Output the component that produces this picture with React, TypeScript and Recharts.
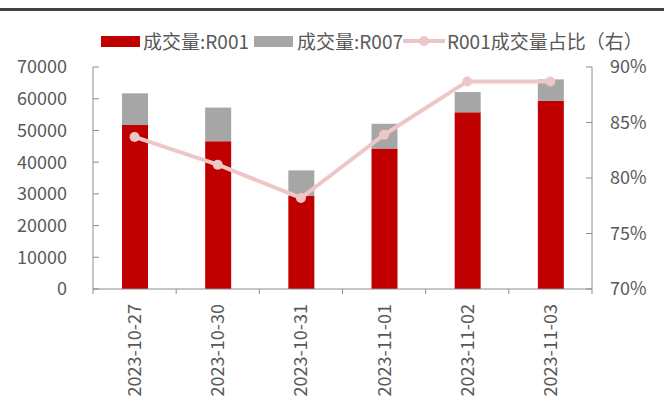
import { Bar, ComposedChart, Line, XAxis, YAxis } from 'recharts'

const dates = ['2023-10-27', '2023-10-30', '2023-10-31', '2023-11-01', '2023-11-02', '2023-11-03']
const r001 = [51700, 46600, 29400, 44300, 55700, 59300]
const r007 = [10000, 10600, 8000, 7800, 6400, 6800]
const r001Share = [83.7, 81.2, 78.2, 83.9, 88.7, 88.7]
const leftTicks = [0, 10000, 20000, 30000, 40000, 50000, 60000, 70000]
const rightTicks = [70, 75, 80, 85, 90]

const data = dates.map((date, i) => ({
  date,
  r001: r001[i],
  r007: r007[i],
  share: r001Share[i],
}))

const W = 664
const H = 407
const PLOT_TOP = 67
const PLOT_BOTTOM = 289
const PLOT_LEFT = 93
const PLOT_RIGHT = 592
const FONT = '"Noto Sans CJK SC", "Noto Sans", sans-serif'
const FS = 18
const TEXT = '#595959'
const AXIS = '#8c8c8c'
const RED = '#c00000'
const GRAY = '#a6a6a6'
const PINK = '#edc7c7'
const HALF_BAND = (PLOT_RIGHT - PLOT_LEFT) / dates.length / 2

function LeftTick({ x, y, payload }: any) {
  const axisX = x + 26
  return (
    <g>
      <line x1={axisX} x2={axisX + 6} y1={y} y2={y} stroke={AXIS} />
      <text x={x} y={y} dy="0.36em" textAnchor="end" fill={TEXT} fontSize={FS} fontFamily={FONT}>
        {payload.value}
      </text>
    </g>
  )
}

function RightTick({ x, y, payload }: any) {
  const axisX = x - 18
  return (
    <g>
      <line x1={axisX - 6} x2={axisX} y1={y} y2={y} stroke={AXIS} />
      <text x={x} y={y} dy="0.36em" textAnchor="start" fill={TEXT} fontSize={FS} fontFamily={FONT}>
        {payload.value}%
      </text>
    </g>
  )
}

function DateTick({ x, y, payload, index }: any) {
  return (
    <g>
      <line x1={x - HALF_BAND} x2={x - HALF_BAND} y1={y} y2={y + 5} stroke={AXIS} />
      {index === dates.length - 1 && (
        <line x1={x + HALF_BAND} x2={x + HALF_BAND} y1={y} y2={y + 5} stroke={AXIS} />
      )}
      <text
        transform={`translate(${x},${y + 15}) rotate(-90)`}
        dy="0.36em"
        textAnchor="end"
        fill={TEXT}
        fontSize={FS}
        fontFamily={FONT}
      >
        {payload.value}
      </text>
    </g>
  )
}

function LegendRow() {
  const item = (left: number) => ({
    position: 'absolute' as const,
    left,
    top: 0,
    display: 'flex',
    alignItems: 'center',
    whiteSpace: 'nowrap' as const,
  })
  return (
    <div
      style={{
        position: 'absolute',
        top: 30,
        left: 0,
        height: 22,
        fontFamily: FONT,
        fontSize: 19,
        color: TEXT,
        lineHeight: '22px',
      }}
    >
      <div style={item(101)}>
        <span style={{ width: 39, height: 11, background: RED, marginRight: 3 }} />
        成交量:R001
      </div>
      <div style={item(254)}>
        <span style={{ width: 39, height: 11, background: GRAY, marginRight: 4 }} />
        成交量:R007
      </div>
      <div style={item(403)}>
        <svg width={42} height={12} style={{ marginRight: 2 }}>
          <line x1={0} x2={42} y1={6} y2={6} stroke={PINK} strokeWidth={4} />
          <circle cx={21} cy={6} r={5} fill={PINK} />
        </svg>
        R001成交量占比（右）
      </div>
    </div>
  )
}

export default function App() {
  return (
    <div style={{ position: 'fixed', left: 0, top: 0, width: W, height: H, background: '#fff' }}>
      <div style={{ position: 'absolute', left: 0, top: 8, width: W, height: 3, background: '#404040' }} />
      <LegendRow />
      <ComposedChart
        width={W}
        height={H}
        data={data}
        margin={{ top: PLOT_TOP, right: 0, left: 0, bottom: 0 }}
      >
        <XAxis
          dataKey="date"
          stroke={AXIS}
          tickLine={false}
          tickSize={0}
          tickMargin={0}
          height={H - PLOT_BOTTOM}
          interval={0}
          tick={<DateTick />}
        />
        <YAxis
          yAxisId="left"
          orientation="left"
          width={PLOT_LEFT}
          domain={[0, 70000]}
          ticks={leftTicks}
          stroke={AXIS}
          tickLine={false}
          tickSize={0}
          tickMargin={26}
          interval={0}
          tick={<LeftTick />}
        />
        <YAxis
          yAxisId="right"
          orientation="right"
          width={W - PLOT_RIGHT}
          domain={[70, 90]}
          ticks={rightTicks}
          stroke={AXIS}
          tickLine={false}
          tickSize={0}
          tickMargin={18}
          interval={0}
          tick={<RightTick />}
        />
        <Bar yAxisId="left" dataKey="r001" stackId="vol" fill={RED} barSize={26} isAnimationActive={false} />
        <Bar yAxisId="left" dataKey="r007" stackId="vol" fill={GRAY} barSize={26} isAnimationActive={false} />
        <Line
          yAxisId="right"
          dataKey="share"
          stroke={PINK}
          strokeWidth={4}
          dot={{ r: 5, fill: PINK, stroke: PINK, strokeWidth: 0 }}
          isAnimationActive={false}
        />
      </ComposedChart>
    </div>
  )
}
